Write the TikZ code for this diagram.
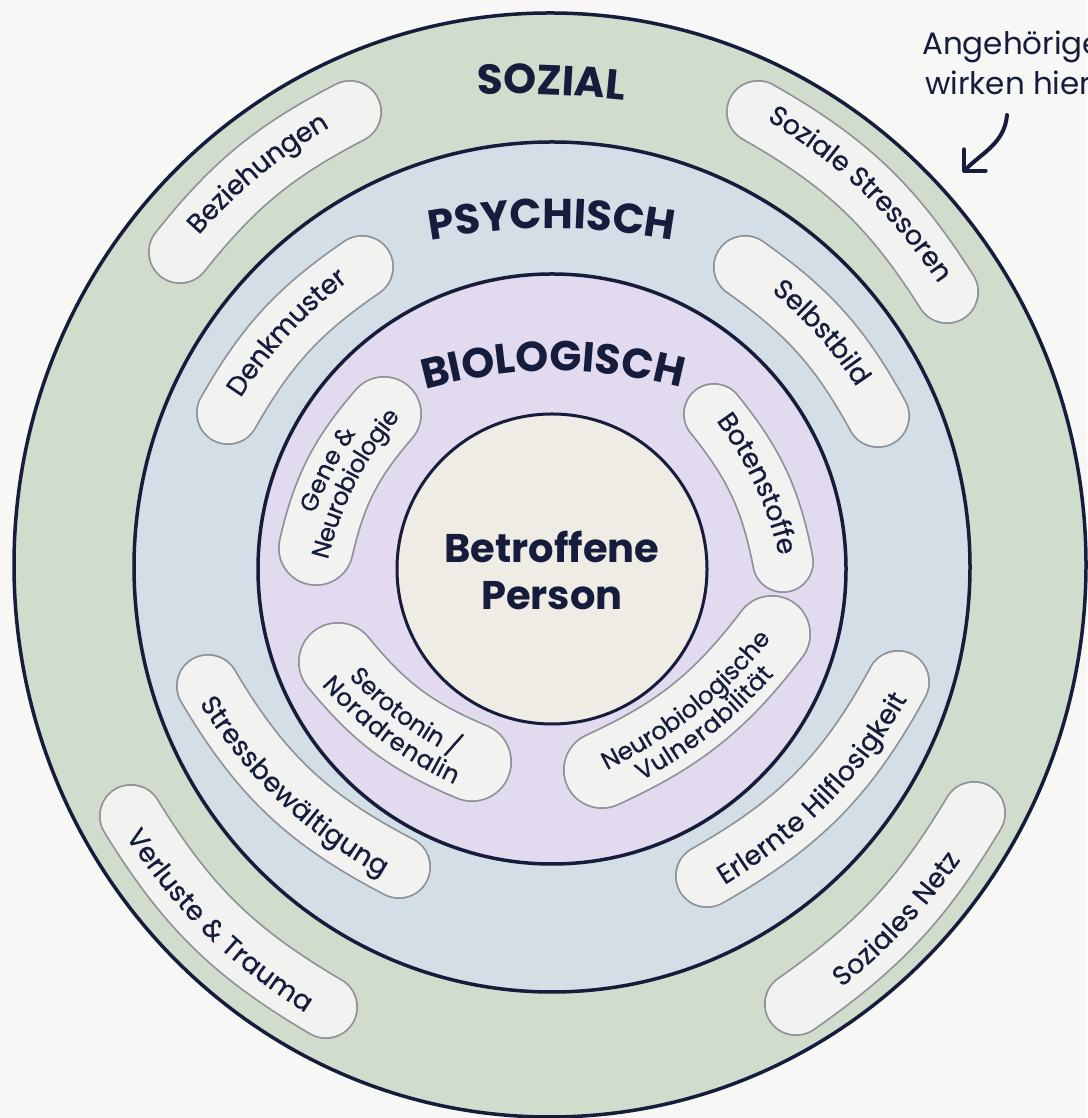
\documentclass[tikz,border=0pt]{standalone}
\usepackage{fontspec}
\setmainfont{Poppins}
\newfontfamily\pillfam[FakeBold=0.6]{Poppins}
\usetikzlibrary{decorations.text,calc,arrows.meta}
\definecolor{bgc}{HTML}{F7F7F5}
\definecolor{ink}{HTML}{161C3B}
\definecolor{sozc}{HTML}{D2DCCC}
\definecolor{psyc}{HTML}{D4DEE6}
\definecolor{bioc}{HTML}{E2DAEE}
\definecolor{corec}{HTML}{EFECE6}
\definecolor{pillc}{HTML}{F2F3F1}
\definecolor{edgec}{HTML}{8E9196}
\newcommand\pf{\pillfam\fontsize{27}{30}\selectfont}
\newcommand\ps{\pillfam\fontsize{24.5}{27}\selectfont}
\newcommand\tf{\fontsize{42}{46}\selectfont\bfseries}
\newcommand\pillshape[4]{%
  \draw[pilledge, line width=#4] (#1) to[#3] (#2);
  \draw[pillbody, line width=#4-3.5] (#1) to[#3] (#2);}
\newcommand\pilltext[5]{%
  \path[decorate, decoration={text along path, text color=ink, text align=center, raise=#4, text={#5}}] ($(#1)!-30pt!(#2)$) to[#3] ($(#2)!-30pt!(#1)$);}
\begin{document}
\begin{tikzpicture}[x=1pt,y=1pt,
  ring/.style={draw=ink, line width=3.5pt},
  pilledge/.style={draw=edgec, line cap=round},
  pillbody/.style={draw=pillc, line cap=round},
  tlabel/.style={text=ink, inner sep=0pt},
  arrowline/.style={draw=ink, line width=4pt, line cap=round, -{Straight Barb[length=15pt, width=30pt, line cap=round, line join=round]}}]
\fill[bgc] (0,0) rectangle (1087,1118);
\useasboundingbox (0,0) rectangle (1087,1118);
% rings
\draw[ring, fill=sozc] (550,553) ellipse [x radius=536, y radius=552];
\draw[ring, fill=psyc] (552,551) ellipse [x radius=418, y radius=425];
\draw[ring, fill=bioc] (552,549) ellipse [x radius=294, y radius=295];
\draw[ring, line width=3pt, fill=corec] (552,549) circle [radius=155];
% pill coordinates
\coordinate (p1a) at (180,866);  \coordinate (p1b) at (350,1006);
\coordinate (p2a) at (758,1006); \coordinate (p2b) at (947,826);
\coordinate (p3a) at (131,302);  \coordinate (p3b) at (326,111);
\coordinate (p4a) at (796,114);  \coordinate (p4b) at (974,305);
\coordinate (p5a) at (228,705);  \coordinate (p5b) at (362,851);
\coordinate (p6a) at (745,851);  \coordinate (p6b) at (878,702);
\coordinate (p7a) at (208,432);  \coordinate (p7b) at (399,251);
\coordinate (p8a) at (707,242);  \coordinate (p8b) at (898,436);
\coordinate (p9a) at (316,570);  \coordinate (p9b) at (384,704);
\coordinate (p10a) at (714,704); \coordinate (p10b) at (783,556);
\coordinate (p11a) at (338,456); \coordinate (p11b) at (472,356);
\coordinate (p12a) at (602,348); \coordinate (p12b) at (772,484);
% pills
\pillshape{p1a}{p1b}{bend left=12}{64}
\pilltext{p1a}{p1b}{bend left=12}{-9pt}{|\pf|Beziehungen}
\pillshape{p2a}{p2b}{bend left=14}{64}
\pilltext{p2a}{p2b}{bend left=14}{-9pt}{|\pf|Soziale Stressoren}
\pillshape{p3a}{p3b}{bend right=14}{64}
\pilltext{p3a}{p3b}{bend right=14}{-9pt}{|\pf|Verluste {\&} Trauma}
\pillshape{p4a}{p4b}{bend right=12}{64}
\pilltext{p4a}{p4b}{bend right=12}{-9pt}{|\pf|Soziales Netz}
\pillshape{p5a}{p5b}{bend left=13}{64}
\pilltext{p5a}{p5b}{bend left=13}{-9pt}{|\pf|Denkmuster}
\pillshape{p6a}{p6b}{bend left=13}{64}
\pilltext{p6a}{p6b}{bend left=13}{-9pt}{|\pf|Selbstbild}
\pillshape{p7a}{p7b}{bend right=16}{64}
\pilltext{p7a}{p7b}{bend right=16}{-9pt}{|\pf|Stressbewältigung}
\pillshape{p8a}{p8b}{bend right=16}{64}
\pilltext{p8a}{p8b}{bend right=16}{-9pt}{|\pf|Erlernte Hilflosigkeit}
\pillshape{p9a}{p9b}{bend left=14}{76}
\pilltext{p9a}{p9b}{bend left=14}{4.5pt}{|\ps|Gene {\&}}
\pilltext{p9a}{p9b}{bend left=14}{-21pt}{|\ps|Neurobiologie}
\pillshape{p10a}{p10b}{bend left=14}{62}
\pilltext{p10a}{p10b}{bend left=14}{-9pt}{|\pf|Botenstoffe}
\pillshape{p11a}{p11b}{bend right=14}{80}
\pilltext{p11a}{p11b}{bend right=14}{4.5pt}{|\ps|Serotonin /}
\pilltext{p11a}{p11b}{bend right=14}{-21pt}{|\ps|Noradrenalin}
\pillshape{p12a}{p12b}{bend right=14}{78}
\pilltext{p12a}{p12b}{bend right=14}{4.5pt}{|\ps|Neurobiologische}
\pilltext{p12a}{p12b}{bend right=14}{-21pt}{|\ps|Vulnerabilität}
% titles
\coordinate (sl) at (459,1023); \coordinate (sr) at (643,1016);
\coordinate (pl) at (420,876);  \coordinate (pr) at (684,876);
\coordinate (bl) at (402,722);  \coordinate (br) at (704,724);
\path[decorate, decoration={text along path, text color=ink, text align=center, text={|\tf|SOZIAL}}] (sl) to[bend left=4] (sr);
\path[decorate, decoration={text along path, text color=ink, text align=center, text={|\tf|PSYCHISCH}}] (pl) to[bend left=10] (pr);
\path[decorate, decoration={text along path, text color=ink, text align=center, text={|\tf|BIOLOGISCH}}] (bl) to[bend left=16] (br);
% centre
\node[tlabel, align=center, font=\fontsize{40}{47}\selectfont\bfseries] (core) at (552,548) {Betroffene\\Person};
% annotation
\node[tlabel, anchor=base west, font=\fontsize{31}{36}\selectfont] (ang) at (922,1063) {Angehörige};
\node[tlabel, anchor=base west, font=\fontsize{31}{36}\selectfont] (wir) at (925,1023) {wirken hier};
\coordinate (arS) at (1007,1003);
\coordinate (arT) at (963,946);
\draw[arrowline] (arS) to[out=-95, in=45] (arT);
\end{tikzpicture}
\end{document}
